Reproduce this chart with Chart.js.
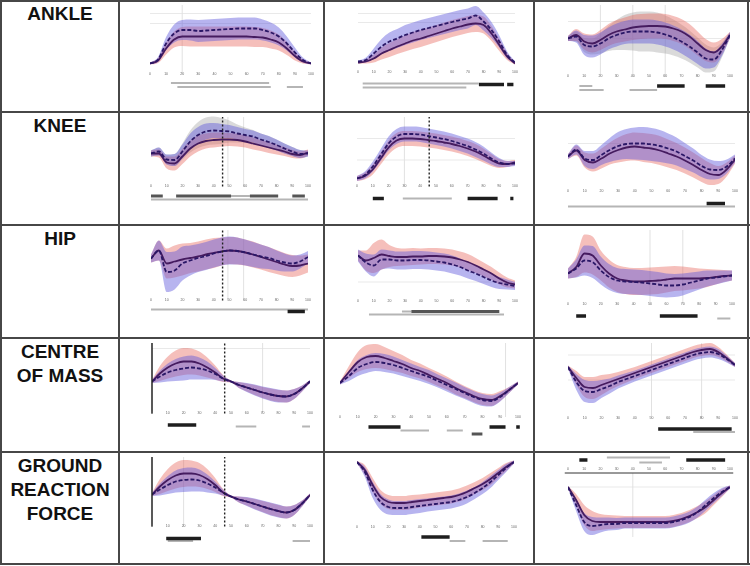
<!DOCTYPE html>
<html>
<head>
<meta charset="utf-8">
<script src="https://cdn.jsdelivr.net/npm/chart.js@4.4.1/dist/chart.umd.min.js"></script>
<style>
  body { margin: 0; background: #fff; }
  #sheet { position: relative; width: 750px; height: 566px; background: #fff; overflow: hidden; }
  .ln { position: absolute; background: #474747; }
  .lbl { position: absolute; left: 2px; width: 116px; text-align: center; color: #111;
         font: bold 19px "Liberation Sans", Arial, sans-serif; line-height: 24px; }
  canvas { position: absolute; }
</style>
</head>
<body>
<div id="sheet"></div>
<script>
// % of gait cycle
const pct = [0, 5, 10, 15, 20, 25, 30, 35, 40, 45, 50, 55, 60, 65, 70, 75, 80, 85, 90, 95, 100];
const xTicks = [0, 10, 20, 30, 40, 50, 60, 70, 80, 90, 100];
const rowLabels = [['ANKLE'], ['KNEE'], ['HIP'], ['CENTRE', 'OF MASS'], ['GROUND', 'REACTION', 'FORCE']];

// ankle
const ankle1Red = [13, 19, 43, 61, 67, 67, 67, 67, 67, 67, 67, 67, 67, 66, 65, 61, 55, 43, 28, 17, 13];
const ankle1RedSd = [2, 5, 12, 16, 19, 20, 20, 20, 20, 20, 20, 20, 20, 20, 19, 18, 16, 13, 9, 4, 2];
const ankle1Blue = [13, 21, 53, 73, 80, 80, 78, 79, 80, 81, 82, 83, 83, 83, 80, 75, 67, 53, 35, 20, 13];
const ankle1BlueSd = [2, 5, 13, 18, 20, 21, 22, 22, 22, 22, 22, 22, 22, 22, 21, 20, 18, 14, 10, 5, 2];
const ankle1SigA = [[13, 74]];
const ankle1SigB = [[17, 75], [85, 95]];

const ankle2Red = [15, 17, 23, 33, 40, 47, 53, 59, 63, 68, 73, 78, 83, 87, 91, 93, 90, 73, 50, 27, 13];
const ankle2RedSd = [2, 4, 8, 12, 14, 15, 16, 17, 17, 17, 17, 17, 17, 17, 17, 17, 17, 15, 12, 7, 2];
const ankle2Blue = [17, 20, 33, 47, 57, 63, 70, 75, 80, 84, 88, 92, 96, 100, 103, 109, 97, 80, 57, 30, 15];
const ankle2BlueSd = [2, 5, 10, 15, 18, 19, 20, 20, 20, 20, 20, 20, 20, 20, 20, 19, 18, 16, 12, 7, 2];
const ankle2SigA = [[3, 77]];
const ankle2SigB = [[77, 93], [95, 99]];
const ankle2SigC = [[3, 69]];

const ankle3Red = [63, 70, 57, 53, 60, 70, 77, 81, 85, 87, 88, 88, 87, 83, 77, 67, 53, 40, 35, 47, 70];
const ankle3RedSd = [5, 12, 16, 18, 20, 22, 23, 24, 25, 25, 25, 25, 25, 25, 25, 25, 24, 22, 20, 15, 6];
const ankle3Blue = [63, 67, 50, 47, 53, 63, 70, 75, 77, 77, 77, 75, 71, 65, 57, 47, 35, 23, 21, 40, 70];
const ankle3BlueSd = [5, 12, 20, 22, 22, 22, 23, 23, 24, 24, 24, 24, 24, 24, 24, 24, 23, 20, 16, 12, 6];
const ankle3GreySd = [5, 10, 14, 16, 20, 25, 30, 35, 38, 40, 40, 40, 38, 36, 34, 32, 30, 28, 24, 15, 6];
const ankle3SigA = [[7, 15]];
const ankle3SigB = [[55, 72], [85, 97]];
const ankle3SigC = [[7, 22], [38, 55]];

// knee
const knee1Red = [57, 57, 39, 37, 51, 67, 77, 82, 84, 85, 85, 84, 81, 77, 73, 69, 65, 61, 56, 54, 59];
const knee1RedSd = [6, 8, 12, 14, 15, 16, 16, 15, 15, 14, 13, 13, 12, 12, 11, 11, 10, 9, 8, 7, 6];
const knee1Blue = [57, 61, 45, 44, 61, 81, 94, 101, 103, 102, 101, 97, 94, 91, 85, 80, 74, 67, 61, 56, 57];
const knee1BlueSd = [6, 8, 10, 12, 14, 16, 16, 16, 15, 14, 13, 13, 12, 12, 12, 12, 11, 10, 9, 8, 6];
const knee1GreySd = [6, 8, 10, 12, 16, 22, 26, 28, 28, 26, 22, 18, 15, 13, 12, 12, 11, 10, 9, 8, 6];
const knee1SigA = [[0, 7.5], [16, 51], [63, 81], [90, 98]];
const knee1SigB = [[51, 63]];
const knee1SigC = [[0, 100]];

const knee2Red = [7, 12, 25, 47, 69, 83, 87, 87, 86, 84, 82, 79, 76, 72, 67, 61, 53, 44, 37, 36, 39];
const knee2RedSd = [5, 7, 10, 12, 14, 15, 15, 15, 15, 15, 15, 15, 15, 15, 15, 15, 14, 12, 9, 6, 5];
const knee2Blue = [7, 14, 31, 54, 77, 91, 96, 96, 95, 92, 89, 86, 82, 77, 72, 65, 57, 47, 39, 36, 37];
const knee2BlueSd = [5, 7, 10, 12, 14, 15, 15, 15, 15, 15, 15, 15, 15, 15, 15, 15, 14, 12, 9, 6, 5];
const knee2SigA = [[10, 17], [70, 89], [97, 99]];
const knee2SigB = [[29, 60]];

const knee3Red = [51, 63, 44, 39, 47, 57, 64, 69, 71, 69, 67, 63, 57, 51, 43, 34, 24, 16, 14, 25, 45];
const knee3RedSd = [5, 10, 15, 18, 20, 22, 25, 27, 28, 29, 29, 29, 28, 27, 26, 25, 24, 22, 18, 14, 8];
const knee3Blue = [51, 65, 47, 44, 54, 64, 72, 76, 77, 77, 75, 72, 67, 61, 52, 43, 32, 25, 24, 31, 47];
const knee3BlueSd = [5, 10, 15, 18, 20, 24, 28, 30, 32, 33, 33, 32, 30, 28, 26, 24, 22, 20, 18, 14, 8];
const knee3SigA = [[83, 94]];
const knee3SigB = [[0, 100]];

// hip
const hip1Red = [73, 89, 63, 67, 71, 74, 77, 81, 84, 87, 89, 88, 85, 81, 76, 71, 66, 61, 58, 59, 63];
const hip1RedSd = [8, 20, 30, 32, 32, 30, 30, 30, 30, 28, 27, 27, 26, 26, 25, 25, 24, 23, 22, 20, 18];
const hip1Blue = [73, 89, 46, 49, 63, 69, 74, 78, 83, 87, 89, 88, 85, 81, 77, 74, 69, 65, 63, 67, 76];
const hip1BlueSd = [8, 20, 40, 38, 34, 30, 28, 28, 28, 28, 28, 27, 26, 25, 24, 22, 20, 18, 16, 14, 12];
const hip1SigA = [[87, 98]];
const hip1SigB = [[0, 100]];

const hip2Red = [79, 69, 74, 81, 78, 76, 76, 77, 77, 78, 78, 77, 75, 71, 66, 59, 51, 43, 33, 25, 21];
const hip2RedSd = [10, 20, 30, 30, 22, 18, 17, 17, 16, 16, 16, 16, 16, 16, 16, 15, 14, 13, 12, 10, 8];
const hip2Blue = [79, 65, 59, 71, 71, 69, 69, 70, 70, 69, 67, 65, 61, 56, 49, 43, 36, 29, 24, 21, 18];
const hip2BlueSd = [12, 18, 22, 20, 18, 18, 18, 18, 18, 18, 18, 18, 18, 17, 16, 15, 14, 13, 12, 10, 8];
const hip2SigA = [[34, 90]];
const hip2SigB = [[28, 34]];
const hip2SigC = [[7, 93]];

const hip3Red = [43, 56, 83, 79, 59, 43, 33, 29, 27, 27, 28, 29, 31, 33, 33, 33, 33, 34, 36, 38, 39];
const hip3RedSd = [10, 20, 38, 38, 30, 28, 27, 27, 27, 27, 27, 27, 26, 25, 24, 22, 20, 18, 15, 12, 10];
const hip3Blue = [43, 53, 69, 66, 49, 36, 29, 27, 26, 25, 23, 21, 19, 19, 21, 25, 29, 33, 35, 37, 39];
const hip3BlueSd = [10, 18, 30, 32, 28, 26, 25, 25, 25, 25, 25, 25, 24, 23, 22, 20, 18, 16, 14, 12, 10];
const hip3SigA = [[5, 11], [56, 79]];
const hip3SigB = [[91, 99]];

// centre of mass
const com1Red = [53, 69, 81, 89, 93, 93, 89, 81, 71, 59, 53, 46, 41, 36, 31, 27, 24, 23, 28, 39, 53];
const com1RedSd = [3, 15, 22, 26, 27, 26, 24, 20, 14, 7, 2, 6, 8, 10, 11, 12, 12, 12, 10, 6, 3];
const com1Blue = [53, 63, 71, 76, 79, 81, 79, 75, 68, 59, 53, 46, 41, 36, 31, 27, 24, 23, 28, 39, 53];
const com1BlueSd = [3, 12, 18, 22, 24, 24, 22, 18, 12, 6, 2, 6, 9, 11, 12, 13, 13, 12, 10, 6, 3];
const com1SigA = [[10, 28]];
const com1SigB = [[53, 66], [95, 100]];

const com2Red = [50, 72, 92, 102, 104, 100, 94, 88, 80, 74, 66, 58, 50, 40, 32, 24, 18, 16, 24, 36, 50];
const com2RedSd = [3, 12, 20, 24, 24, 22, 20, 18, 16, 15, 14, 14, 13, 13, 12, 12, 12, 12, 10, 6, 3];
const com2Blue = [50, 64, 80, 88, 92, 90, 86, 80, 74, 68, 62, 54, 46, 38, 30, 22, 16, 14, 22, 36, 50];
const com2BlueSd = [3, 10, 16, 18, 18, 18, 17, 16, 15, 14, 14, 13, 13, 13, 12, 12, 12, 11, 9, 6, 3];
const com2SigA = [[16, 34], [84, 93], [99, 101]];
const com2SigB = [[34, 50], [60, 69]];
const com2SigC = [[74, 80]];

const com3Red = [82, 60, 42, 40, 46, 52, 58, 64, 70, 76, 82, 88, 94, 100, 106, 112, 116, 118, 112, 100, 86];
const com3RedSd = [3, 14, 20, 22, 20, 16, 14, 13, 12, 12, 12, 12, 12, 12, 12, 12, 12, 12, 10, 7, 4];
const com3Blue = [82, 52, 34, 32, 38, 44, 52, 58, 64, 70, 76, 82, 88, 94, 100, 106, 110, 112, 108, 98, 86];
const com3BlueSd = [3, 16, 22, 22, 18, 15, 13, 12, 11, 11, 11, 11, 11, 11, 11, 11, 11, 11, 10, 7, 4];
const com3SigA = [[54, 98]];
const com3SigB = [[75, 100]];

// ground reaction force
const grf1Red = [55, 71, 84, 93, 97, 97, 94, 86, 74, 59, 51, 45, 41, 36, 31, 26, 22, 19, 24, 37, 54];
const grf1RedSd = [3, 15, 22, 26, 27, 26, 24, 20, 14, 7, 2, 6, 8, 10, 11, 12, 12, 12, 10, 6, 3];
const grf1Blue = [55, 65, 74, 81, 84, 85, 83, 77, 69, 59, 51, 45, 41, 36, 31, 26, 22, 19, 24, 37, 54];
const grf1BlueSd = [3, 12, 18, 22, 24, 24, 22, 18, 12, 6, 2, 6, 9, 11, 12, 13, 13, 12, 10, 6, 3];
const grf1SigA = [[9, 31]];
const grf1SigB = [[10, 26], [89, 100]];

const grf2Red = [120, 104, 74, 50, 40, 38, 38, 40, 42, 44, 46, 48, 50, 54, 60, 68, 76, 86, 98, 110, 120];
const grf2RedSd = [2, 10, 14, 14, 14, 14, 14, 14, 13, 13, 13, 13, 13, 13, 13, 12, 12, 12, 10, 8, 3];
const grf2Blue = [120, 100, 64, 40, 30, 28, 28, 30, 32, 34, 36, 38, 40, 44, 50, 58, 68, 80, 94, 108, 120];
const grf2BlueSd = [2, 10, 16, 16, 15, 14, 14, 14, 14, 13, 13, 13, 13, 13, 13, 12, 12, 12, 10, 8, 3];
const grf2SigA = [[41, 59]];
const grf2SigB = [[59, 69], [80, 96]];

const grf3Red = [70, 44, 14, 2, 0, 0, 0, 0, 0, 0, 0, 0, 0, 2, 6, 12, 20, 30, 44, 58, 70];
const grf3RedSd = [2, 12, 20, 20, 16, 14, 13, 12, 12, 12, 12, 12, 12, 12, 12, 12, 12, 12, 10, 8, 3];
const grf3Blue = [70, 34, 0, -8, -6, -4, -4, -2, -2, -2, -2, -2, -2, 0, 4, 10, 20, 34, 48, 60, 70];
const grf3BlueSd = [2, 12, 18, 18, 15, 13, 12, 11, 11, 11, 11, 11, 11, 11, 11, 11, 11, 11, 10, 8, 3];
const grf3SigA = [[7, 12], [73, 97]];
const grf3SigB = [[24, 63]];
const grf3SigC = [[44, 58]];

// table geometry
const rowTops = [0, 112, 225, 338, 452];
const rowBoxes = [[2, 109], [113, 111], [226, 111], [339, 112], [453, 110]];
const colBoxes = [[120, 203], [325, 208], [535, 212]];
const hLines = [0, 111, 224, 337, 451, 563];
const vLines = [0, 118, 323, 533, 747];

const panels = [
  { r: 0, c: 0, red: ankle1Red, redSd: ankle1RedSd, blue: ankle1Blue, blueSd: ankle1BlueSd, pad: [30, 12], tick: -8,
    vl: [[20, 'grey']], hl: [113, 93], sig: [[-26, 'grey', ankle1SigA], [-34, 'grey', ankle1SigB]] },
  { r: 0, c: 1, red: ankle2Red, redSd: ankle2RedSd, blue: ankle2Blue, blueSd: ankle2BlueSd, pad: [33, 18], tick: -5,
    vl: [], hl: [113, 95], sig: [[-27, 'grey', ankle2SigA], [-29, 'black', ankle2SigB], [-35, 'grey', ankle2SigC]] },
  { r: 0, c: 2, red: ankle3Red, redSd: ankle3RedSd, blue: ankle3Blue, blueSd: ankle3BlueSd, grey: ankle3GreySd, pad: [33, 17], tick: -13,
    vl: [[20, 'grey'], [40, 'grey'], [60, 'grey']], hl: [97, 63], sig: [[-32, 'grey', ankle3SigA], [-32, 'black', ankle3SigB], [-40, 'grey', ankle3SigC]] },
  { r: 1, c: 0, red: knee1Red, redSd: knee1RedSd, blue: knee1Blue, blueSd: knee1BlueSd, grey: knee1GreySd, pad: [31, 15], tick: -9,
    vl: [[45.6, 'dash'], [49, 'grey'], [59, 'grey']], hl: [], sig: [[-28, 'dark', knee1SigA], [-28, 'grey', knee1SigB], [-35, 'grey', knee1SigC]] },
  { r: 1, c: 1, red: knee2Red, redSd: knee2RedSd, blue: knee2Blue, blueSd: knee2BlueSd, pad: [32, 18], tick: -9,
    vl: [[45.7, 'dash'], [30, 'grey']], hl: [87, 44], sig: [[-33, 'black', knee2SigA], [-33, 'grey', knee2SigB]] },
  { r: 1, c: 2, red: knee3Red, redSd: knee3RedSd, blue: knee3Blue, blueSd: knee3BlueSd, pad: [33, 12], tick: -19,
    vl: [], hl: [77], sig: [[-43, 'black', knee3SigA], [-49, 'grey', knee3SigB]] },
  { r: 2, c: 0, red: hip1Red, redSd: hip1RedSd, blue: hip1Blue, blueSd: hip1BlueSd, pad: [31, 15], tick: -11,
    vl: [[45.6, 'dash'], [49, 'grey'], [59, 'grey']], hl: [], sig: [[-33, 'black', hip1SigA], [-29, 'grey', hip1SigB]] },
  { r: 2, c: 1, red: hip2Red, redSd: hip2RedSd, blue: hip2Blue, blueSd: hip2BlueSd, pad: [33, 18], tick: -13,
    vl: [], hl: [26], sig: [[-33, 'dark', hip2SigA], [-33, 'grey', hip2SigB], [-39, 'grey', hip2SigC]] },
  { r: 2, c: 2, red: hip3Red, redSd: hip3RedSd, blue: hip3Blue, blueSd: hip3BlueSd, pad: [33, 15], tick: -19,
    vl: [[50, 'grey'], [70, 'grey']], hl: [], sig: [[-42, 'black', hip3SigA], [-47, 'grey', hip3SigB]] },
  { r: 3, c: 0, red: com1Red, redSd: com1RedSd, blue: com1Blue, blueSd: com1BlueSd, pad: [32, 13], tick: -11,
    vl: [[0, 'axis'], [46, 'dash'], [70, 'grey']], hl: [119], sig: [[-34, 'black', com1SigA], [-37, 'grey', com1SigB]] },
  { r: 3, c: 1, red: com2Red, redSd: com2RedSd, blue: com2Blue, blueSd: com2BlueSd, pad: [15, 15], tick: -18,
    vl: [[93, 'grey']], hl: [], sig: [[-38, 'black', com2SigA], [-45, 'grey', com2SigB], [-52, 'dark', com2SigC]] },
  { r: 3, c: 2, red: com3Red, redSd: com3RedSd, blue: com3Blue, blueSd: com3BlueSd, pad: [33, 12], tick: -20,
    vl: [[50, 'grey'], [80, 'grey']], hl: [106, 56], sig: [[-42, 'black', com3SigA], [-48, 'grey', com3SigB]] },
  { r: 4, c: 0, red: grf1Red, redSd: grf1RedSd, blue: grf1Blue, blueSd: grf1BlueSd, pad: [32, 13], tick: -9,
    vl: [[0, 'axis'], [46, 'dash'], [20, 'grey']], hl: [], sig: [[-33, 'black', grf1SigA], [-38, 'grey', grf1SigB]] },
  { r: 4, c: 1, red: grf2Red, redSd: grf2RedSd, blue: grf2Blue, blueSd: grf2BlueSd, pad: [32, 19], tick: -10,
    vl: [], hl: [], sig: [[-30, 'black', grf2SigA], [-38, 'grey', grf2SigB]] },
  { r: 4, c: 2, red: grf3Red, redSd: grf3RedSd, blue: grf3Blue, blueSd: grf3BlueSd, pad: [33, 17], tick: 106, axisAt: 98, vTop: 98, vBot: -30,
    vl: [[40, 'grey']], hl: [70], sig: [[124, 'black', grf3SigA], [129, 'grey', grf3SigB], [119, 'grey', grf3SigC]] }
];

const sheet = document.getElementById('sheet');

hLines.forEach(y => {
  const d = document.createElement('div');
  d.className = 'ln';
  d.style.cssText = `left:0;top:${y}px;width:750px;height:2px`;
  sheet.appendChild(d);
});
vLines.forEach(x => {
  const d = document.createElement('div');
  d.className = 'ln';
  d.style.cssText = `left:${x}px;top:0;width:2px;height:565px`;
  sheet.appendChild(d);
});
rowLabels.forEach((lines, i) => {
  const d = document.createElement('div');
  d.className = 'lbl';
  d.style.top = (rowTops[i] + 2) + 'px';
  d.innerHTML = lines.join('<br>');
  sheet.appendChild(d);
});

// tiny tick labels under each trace
const tickText = {
  id: 'tickText',
  afterDatasetsDraw(chart, args, opts) {
    const { ctx, scales: { x, y } } = chart;
    ctx.save();
    ctx.font = '3.5px "Liberation Sans", Arial, sans-serif';
    ctx.fillStyle = '#666';
    ctx.textAlign = 'center';
    ctx.textBaseline = 'middle';
    xTicks.forEach(t => ctx.fillText(String(t), x.getPixelForValue(t), y.getPixelForValue(opts.level)));
    ctx.restore();
  }
};

const pts = (arr, sd, k) => pct.map((p, i) => ({ x: p, y: arr[i] + (sd ? k * sd[i] : 0) }));
const vlStyle = {
  grey: { color: '#d4d4d4', width: 0.7, dash: [] },
  dash: { color: '#222', width: 1.4, dash: [2, 2] },
  axis: { color: '#222', width: 1.5, dash: [] }
};
const sigStyle = {
  grey: { color: '#b5b5b5', width: 2 },
  dark: { color: '#555', width: 3 },
  black: { color: '#1e1e1e', width: 3.5 }
};

panels.forEach(p => {
  const [cx, cw] = colBoxes[p.c];
  const [cy, ch] = rowBoxes[p.r];
  const yMax = 140 - 2 * (cy - rowTops[p.r]);
  const yMin = yMax - 2 * ch;
  const cv = document.createElement('canvas');
  cv.width = cw; cv.height = ch;
  cv.style.left = cx + 'px'; cv.style.top = cy + 'px';
  sheet.appendChild(cv);

  const ds = [];
  const band = (mean, sd, color, order) => {
    ds.push({ data: pts(mean, sd, 1), fill: '+1', backgroundColor: color, borderWidth: 0, pointRadius: 0,
              cubicInterpolationMode: 'monotone', order });
    ds.push({ data: pts(mean, sd, -1), fill: false, borderWidth: 0, pointRadius: 0,
              cubicInterpolationMode: 'monotone', order });
  };
  const vTop = p.vTop !== undefined ? p.vTop : 130;
  const vBot = p.vBot !== undefined ? p.vBot : p.tick;

  p.hl.forEach(h => ds.push({ data: [{ x: 0, y: h }, { x: 100, y: h }], borderColor: '#e0e0e0', borderWidth: 0.7,
                              pointRadius: 0, fill: false, order: 30 }));
  if (p.axisAt !== undefined) {
    ds.push({ data: [{ x: -2, y: p.axisAt }, { x: 102, y: p.axisAt }], borderColor: '#333', borderWidth: 1,
              pointRadius: 0, fill: false, order: 2, clip: false });
  }
  p.vl.forEach(([at, kind]) => {
    const s = vlStyle[kind];
    ds.push({ data: [{ x: at, y: vBot }, { x: at, y: vTop }], borderColor: s.color, borderWidth: s.width,
              borderDash: s.dash, pointRadius: 0, fill: false, order: kind === 'grey' ? 30 : 2, clip: false });
  });
  if (p.grey) band(p.blue, p.grey, 'rgba(150,150,150,0.35)', 22);
  band(p.red, p.redSd, 'rgba(230,95,85,0.4)', 21);
  band(p.blue, p.blueSd, 'rgba(96,88,220,0.45)', 20);
  ds.push({ data: pts(p.red), borderColor: '#451b5f', borderWidth: 1.8, pointRadius: 0, fill: false,
            cubicInterpolationMode: 'monotone', order: 4 });
  ds.push({ data: pts(p.blue), borderColor: '#2a1766', borderWidth: 1.8, borderDash: [4, 2], pointRadius: 0,
            fill: false, cubicInterpolationMode: 'monotone', order: 3 });
  p.sig.forEach(([level, kind, spans]) => {
    const s = sigStyle[kind];
    spans.forEach(([a, b]) => ds.push({ data: [{ x: a, y: level }, { x: b, y: level }], borderColor: s.color,
      borderWidth: s.width, pointRadius: 0, fill: false, order: 1, clip: false }));
  });

  new Chart(cv, {
    type: 'line',
    data: { datasets: ds },
    plugins: [tickText],
    options: {
      responsive: false,
      animation: false,
      events: [],
      layout: { padding: { left: p.pad[0], right: p.pad[1], top: 0, bottom: 0 } },
      scales: {
        x: { type: 'linear', min: 0, max: 100, display: false },
        y: { min: yMin, max: yMax, display: false }
      },
      plugins: {
        legend: { display: false },
        tooltip: { enabled: false },
        tickText: { level: p.tick }
      }
    }
  });
});
</script>
</body>
</html>
